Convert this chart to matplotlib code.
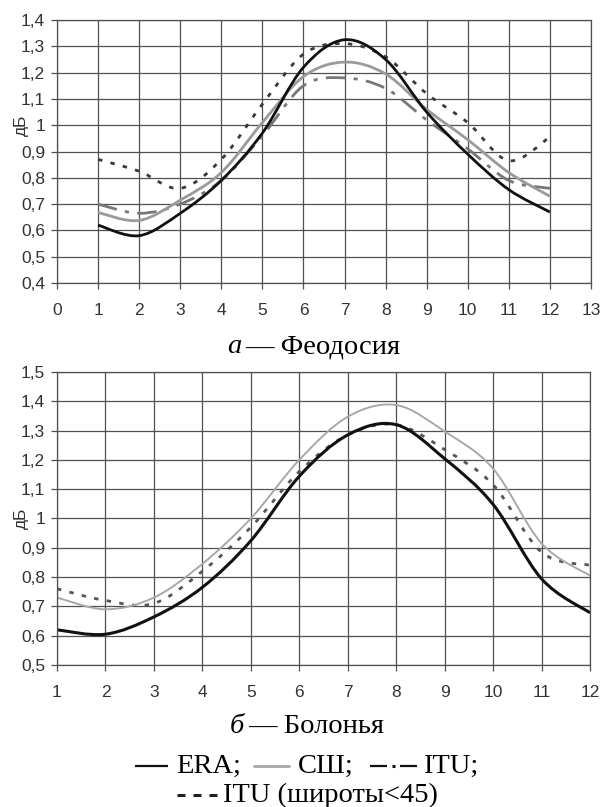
import numpy as np
import matplotlib
matplotlib.use('Agg')
import matplotlib.pyplot as plt
from matplotlib.path import Path
from matplotlib.patches import PathPatch
from matplotlib.lines import Line2D

plt.rcParams['font.family'] = ['Liberation Sans', 'DejaVu Sans']

months = [1, 2, 3, 4, 5, 6, 7, 8, 9, 10, 11, 12]

# а - Феодосия
feo_era = [0.62, 0.58, 0.665, 0.79, 0.97, 1.22, 1.325, 1.25, 1.05, 0.89, 0.755, 0.67]
feo_ssh = [0.668, 0.638, 0.715, 0.82, 1.01, 1.185, 1.24, 1.195, 1.06, 0.945, 0.82, 0.73]
feo_itu = [0.70, 0.665, 0.70, 0.79, 0.96, 1.15, 1.18, 1.14, 1.02, 0.91, 0.79, 0.76]
feo_itu45 = [0.87, 0.825, 0.76, 0.87, 1.08, 1.27, 1.31, 1.26, 1.12, 1.01, 0.865, 0.955]

# б - Болонья
bol_era = [0.62, 0.605, 0.664, 0.765, 0.924, 1.144, 1.285, 1.32, 1.204, 1.048, 0.794, 0.678]
bol_ssh = [0.73, 0.69, 0.73, 0.845, 1.0, 1.2, 1.347, 1.387, 1.297, 1.17, 0.915, 0.805]
bol_itu45 = [0.76, 0.72, 0.71, 0.82, 0.97, 1.16, 1.285, 1.32, 1.235, 1.115, 0.885, 0.84]

top_yticks = [0.4, 0.5, 0.6, 0.7, 0.8, 0.9, 1.0, 1.1, 1.2, 1.3, 1.4]
bot_yticks = [0.5, 0.6, 0.7, 0.8, 0.9, 1.0, 1.1, 1.2, 1.3, 1.4, 1.5]


def lab(v):
    s = ('%.1f' % v).replace('.', ',')
    return '1' if s == '1,0' else s


def smooth(ax, xs, ys, **kw):
    # Excel-like smoothed line: cubic Bezier segments through the points
    p = np.column_stack([xs, ys]).astype(float)
    n = len(p)
    verts = [p[0]]
    codes = [Path.MOVETO]
    for i in range(n - 1):
        p0 = p[max(i - 1, 0)]
        p3 = p[min(i + 2, n - 1)]
        c1 = p[i] + (p[i + 1] - p0) / 6
        c2 = p[i + 1] - (p3 - p[i]) / 6
        verts += [c1, c2, p[i + 1]]
        codes += [Path.CURVE4] * 3
    patch = PathPatch(Path(verts, codes), fill=False, transform=ax.transData,
                      capstyle='butt', joinstyle='round', **kw)
    ax.add_patch(patch)


def style(ax):
    ax.grid(True, color='#505050', lw=0.9)
    ax.set_axisbelow(True)
    for s in ax.spines.values():
        s.set_color('#505050')
        s.set_linewidth(0.9)
    ax.tick_params(direction='out', length=4.5, width=0.9, color='#505050',
                   labelsize=12.5, labelcolor='#333333')
    ax.tick_params(axis='y', pad=4)
    ax.tick_params(axis='x', pad=10)


fig = plt.figure(figsize=(6.05, 8.07), dpi=100)

ax1 = fig.add_axes([0.0942, 0.6493, 0.8826, 0.3259])
ax1.set_xlim(0, 13)
ax1.set_ylim(0.4, 1.4)
ax1.set_xticks(range(0, 14))
ax1.set_yticks(top_yticks)
ax1.set_yticklabels([lab(v) for v in top_yticks])
style(ax1)
smooth(ax1, months, feo_itu45, edgecolor='#3a3a3a', lw=2.0, linestyle=(0, (1.6, 3.0)))
smooth(ax1, months, feo_itu, edgecolor='#777777', lw=2.0, linestyle=(0, (7, 3, 1.5, 3)))
smooth(ax1, months, feo_ssh, edgecolor='#9a9a9a', lw=2.0)
smooth(ax1, months, feo_era, edgecolor='#111111', lw=2.0)
ax1.set_ylabel('дБ', fontsize=12.5, color='#333333')
ax1.yaxis.set_label_coords(-0.052, 0.6)

ax2 = fig.add_axes([0.0942, 0.176, 0.881, 0.3631])
ax2.set_xlim(1, 12)
ax2.set_ylim(0.5, 1.5)
ax2.set_xticks(months)
ax2.set_yticks(bot_yticks)
ax2.set_yticklabels([lab(v) for v in bot_yticks])
style(ax2)
smooth(ax2, months, bol_itu45, edgecolor='#555555', lw=2.0, linestyle=(0, (1.6, 3.0)))
smooth(ax2, months, bol_ssh, edgecolor='#a8a8a8', lw=1.4)
smooth(ax2, months, bol_era, edgecolor='#111111', lw=2.2)
ax2.set_ylabel('дБ', fontsize=12.5, color='#333333')
ax2.yaxis.set_label_coords(-0.052, 0.5)

serif = ['Liberation Serif', 'DejaVu Serif']
W, H = 605.0, 807.0


def ftxt(x, y, s, **kw):
    fig.text(x / W, 1 - y / H, s, family=serif, va='baseline', **kw)


def fline(x0, x1, y, **kw):
    fig.add_artist(Line2D([x0 / W, x1 / W], [1 - y / H, 1 - y / H],
                          transform=fig.transFigure, solid_capstyle='butt', **kw))


fs = 20.5
ftxt(241, 353, 'а', ha='right', style='italic', fontsize=fs)
ftxt(245, 353, '— Феодосия', ha='left', fontsize=fs)
ftxt(244, 733, 'б', ha='right', style='italic', fontsize=fs)
ftxt(248, 733, '— Болонья', ha='left', fontsize=fs)

# legend line 1
fline(135, 168, 766, color='#111111', lw=1.6)
ftxt(176, 773, 'ERA;', ha='left', fontsize=fs)
fline(253, 290, 766, color='#a8a8a8', lw=2.0)
ftxt(298, 773, 'СШ;', ha='left', fontsize=fs)
fline(370, 387, 766, color='#111111', lw=1.6)
fline(391.5, 395, 766, color='#111111', lw=2.2)
fline(400, 417, 766, color='#111111', lw=1.6)
ftxt(423, 773, 'ITU;', ha='left', fontsize=fs)
# legend line 2
for x0 in (177, 193, 209):
    fline(x0, x0 + 8, 795, color='#222222', lw=2.2)
ftxt(223, 802, 'ITU (широты<45)', ha='left', fontsize=fs)

fig.savefig('out.png', dpi=100)
